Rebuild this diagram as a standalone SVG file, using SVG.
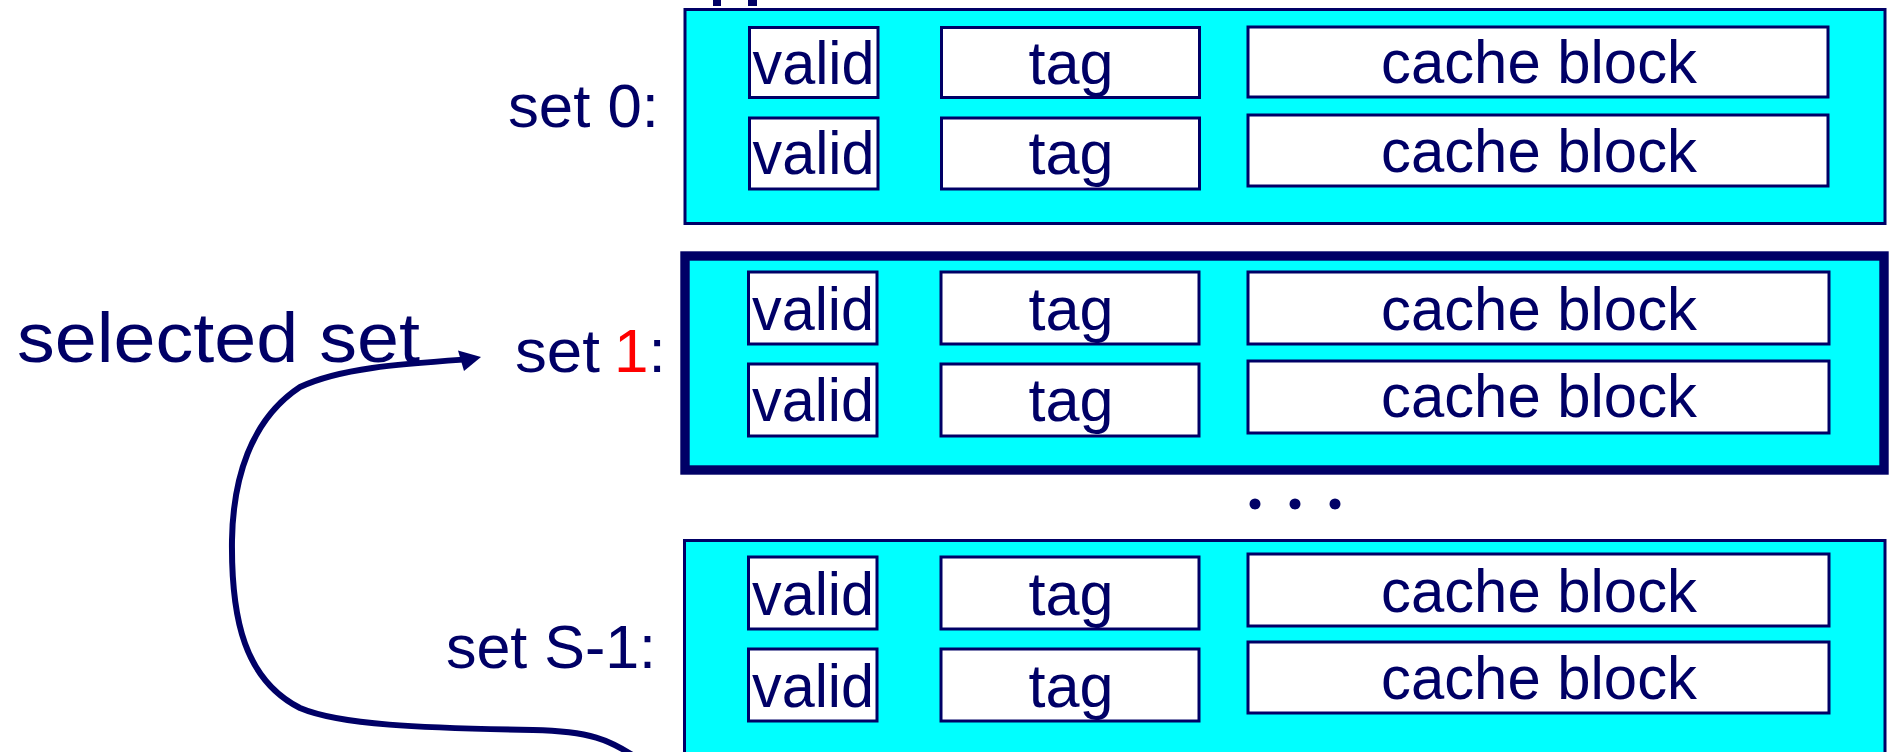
<svg xmlns="http://www.w3.org/2000/svg" width="1890" height="752" viewBox="0 0 1890 752">
<style>
  .set{fill:#00FFFF;stroke:#000066;stroke-width:3}
  .sel{fill:#00FFFF;stroke:#000066;stroke-width:9.4}
  .cell{fill:#FFFFFF;stroke:#000066;stroke-width:3}
  .t{font-family:"Liberation Sans",Arial,sans-serif;font-size:62px;fill:#000066}
  .c{text-anchor:middle}
  .lbl{text-anchor:end}
  .red{fill:#FF0000}
  .conn{fill:none;stroke:#000066;stroke-width:6;stroke-linecap:round}
</style>
<rect width="1890" height="752" fill="#FFFFFF"/>
<g id="top-fragments" fill="#000066">
  <rect x="713" y="0" width="8" height="6"/>
  <rect x="748" y="0" width="9" height="6"/>
</g>
<g id="set0">
  <rect class="set" x="685" y="9.5" width="1200" height="214"/>
  <text class="t lbl" x="659" y="127" textLength="151" lengthAdjust="spacingAndGlyphs">set 0:</text>
  <rect class="cell" x="749.5" y="27.5" width="128.5" height="70"/>
  <text class="t c" x="813.5" y="83.5" textLength="122" lengthAdjust="spacingAndGlyphs">valid</text>
  <rect class="cell" x="941.5" y="27.5" width="258" height="70"/>
  <text class="t c" x="1071" y="83.5" textLength="85" lengthAdjust="spacingAndGlyphs">tag</text>
  <rect class="cell" x="1248" y="27" width="580" height="70"/>
  <text class="t c" x="1539" y="83" textLength="316" lengthAdjust="spacingAndGlyphs">cache block</text>
  <rect class="cell" x="749.5" y="118" width="128.5" height="71"/>
  <text class="t c" x="813.5" y="174" textLength="122" lengthAdjust="spacingAndGlyphs">valid</text>
  <rect class="cell" x="941.5" y="118" width="258" height="71"/>
  <text class="t c" x="1071" y="174" textLength="85" lengthAdjust="spacingAndGlyphs">tag</text>
  <rect class="cell" x="1248" y="115" width="580" height="71"/>
  <text class="t c" x="1539" y="172" textLength="316" lengthAdjust="spacingAndGlyphs">cache block</text>
</g>
<g id="set1">
  <rect class="sel" x="685" y="256" width="1199" height="214"/>
  <text class="t" x="515" y="372" textLength="85" lengthAdjust="spacingAndGlyphs">set</text>
  <text class="t red" x="614" y="372">1</text>
  <text class="t" x="648.5" y="372">:</text>
  <rect class="cell" x="748.5" y="272" width="128.5" height="72"/>
  <text class="t c" x="813" y="329.5" textLength="122" lengthAdjust="spacingAndGlyphs">valid</text>
  <rect class="cell" x="941" y="272" width="258" height="72"/>
  <text class="t c" x="1071" y="329.5" textLength="85" lengthAdjust="spacingAndGlyphs">tag</text>
  <rect class="cell" x="1248" y="272" width="581" height="72"/>
  <text class="t c" x="1539" y="329.5" textLength="316" lengthAdjust="spacingAndGlyphs">cache block</text>
  <rect class="cell" x="748.5" y="364" width="128.5" height="72"/>
  <text class="t c" x="813" y="420.5" textLength="122" lengthAdjust="spacingAndGlyphs">valid</text>
  <rect class="cell" x="941" y="364" width="258" height="72"/>
  <text class="t c" x="1071" y="420.5" textLength="85" lengthAdjust="spacingAndGlyphs">tag</text>
  <rect class="cell" x="1248" y="361" width="581" height="72"/>
  <text class="t c" x="1539" y="417" textLength="316" lengthAdjust="spacingAndGlyphs">cache block</text>
</g>
<g id="ellipsis" fill="#000066">
  <circle cx="1255" cy="504" r="5.5"/>
  <circle cx="1295" cy="504" r="5.5"/>
  <circle cx="1335" cy="504" r="5.5"/>
</g>
<g id="setS-1">
  <rect class="set" x="684.5" y="540.5" width="1200.5" height="230"/>
  <text class="t lbl" x="656" y="668" textLength="210" lengthAdjust="spacingAndGlyphs">set S-1:</text>
  <rect class="cell" x="748.5" y="557" width="128.5" height="72"/>
  <text class="t c" x="813" y="614.5" textLength="122" lengthAdjust="spacingAndGlyphs">valid</text>
  <rect class="cell" x="941" y="557" width="258" height="72"/>
  <text class="t c" x="1071" y="614.5" textLength="85" lengthAdjust="spacingAndGlyphs">tag</text>
  <rect class="cell" x="1248" y="554" width="581" height="72"/>
  <text class="t c" x="1539" y="611.5" textLength="316" lengthAdjust="spacingAndGlyphs">cache block</text>
  <rect class="cell" x="748.5" y="649" width="128.5" height="72"/>
  <text class="t c" x="813" y="706.5" textLength="122" lengthAdjust="spacingAndGlyphs">valid</text>
  <rect class="cell" x="941" y="649" width="258" height="72"/>
  <text class="t c" x="1071" y="706.5" textLength="85" lengthAdjust="spacingAndGlyphs">tag</text>
  <rect class="cell" x="1248" y="642" width="581" height="71"/>
  <text class="t c" x="1539" y="698.5" textLength="316" lengthAdjust="spacingAndGlyphs">cache block</text>
</g>
<g id="selected-set-label">
  <text class="t" x="17" y="362" textLength="403" lengthAdjust="spacingAndGlyphs" style="font-size:70px">selected set</text>
</g>
<g id="connectors">
  <path class="conn" d="M 637 758 C 610 740, 590 731, 533 730 C 420 728, 340 725, 300 708 C 245 680, 231 620, 232 540 C 233 480, 250 420, 300 387 C 340 368, 400 364, 465 359.5"/>
  <polygon fill="#000066" points="481,357 458,350.5 464,371"/>
</g>
</svg>
